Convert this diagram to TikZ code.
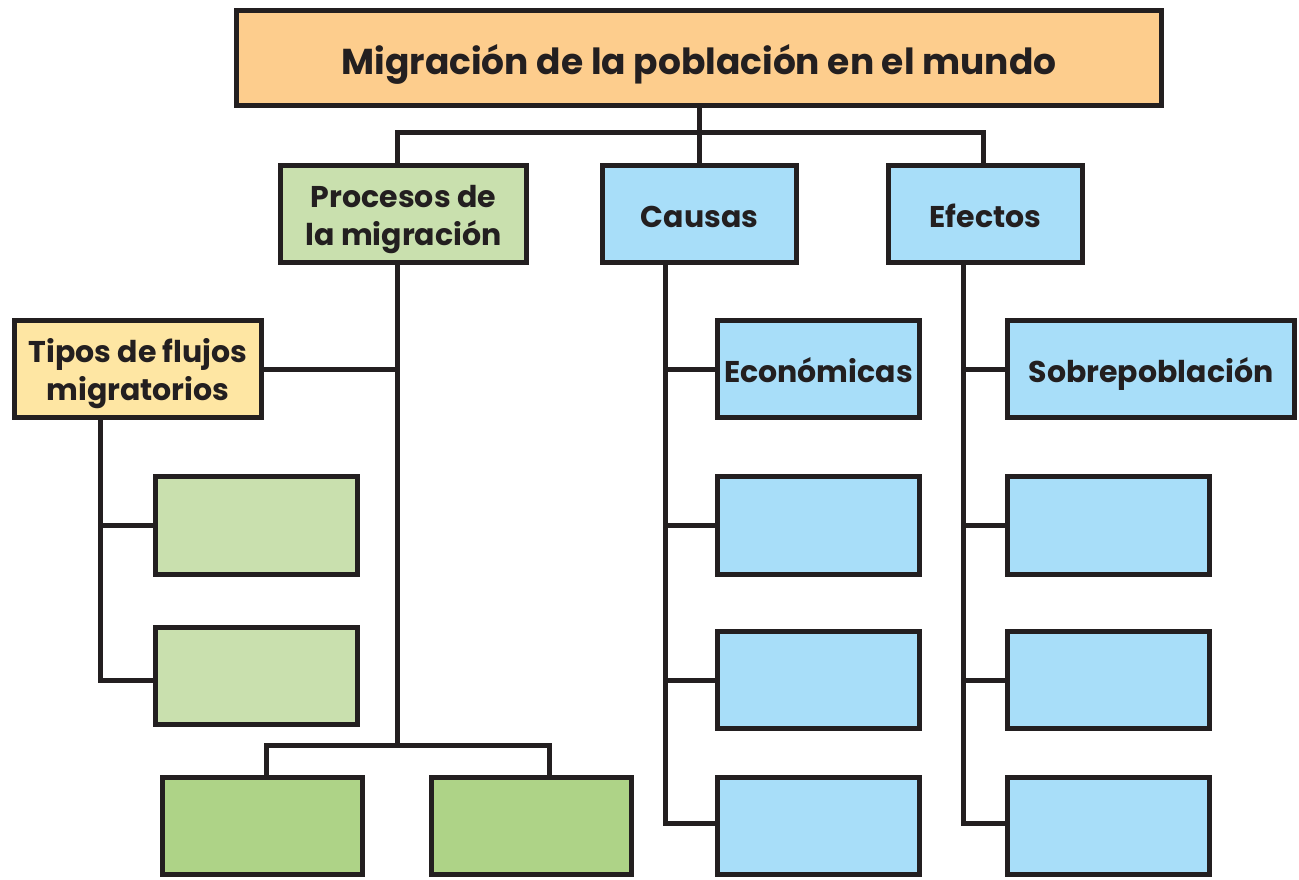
\documentclass[tikz,border=0pt]{standalone}
\usepackage{fontspec}
\setmainfont{Poppins}
\definecolor{ink}{HTML}{231F20}
\definecolor{orangebox}{HTML}{FDCD8D}
\definecolor{lgreen}{HTML}{C9E0AE}
\definecolor{dgreen}{HTML}{AED387}
\definecolor{lblue}{HTML}{A8DEF9}
\definecolor{lyellow}{HTML}{FEE6A3}
\tikzset{
  box/.style={draw=ink, line width=5pt, rectangle, inner sep=0pt, outer sep=0pt,
    align=center, font=\fontsize{30}{38}\selectfont\bfseries, text=ink,
    text height=30pt, text depth=4pt},
  twoline/.style={box, text height=67pt, text depth=4pt},
  titlebox/.style={box, font=\fontsize{36}{42}\selectfont\bfseries,
    text height=38pt, text depth=4pt},
  link/.style={draw=ink, line width=5pt, line join=miter}
}
\begin{document}
\begin{tikzpicture}[x=1pt,y=-1pt]
\useasboundingbox[fill=white] (0,0) rectangle (1299,880);
% boxes
\node[titlebox, fill=orangebox, minimum width=925, minimum height=95] (title) at (699,58) {Migración de la población en el mundo};
\node[twoline, fill=lgreen, minimum width=246, minimum height=97] (proc) at (403.5,214) {Procesos de\\la migración};
\node[box, fill=lblue, minimum width=194, minimum height=97] (causas) at (699.5,214) {Causas};
\node[box, fill=lblue, minimum width=194, minimum height=97] (efectos) at (985.5,214) {Efectos};
\node[twoline, fill=lyellow, minimum width=247, minimum height=97] (tipos) at (138,369) {Tipos de flujos\\migratorios};
\node[box, fill=lgreen, minimum width=202, minimum height=98] (g1) at (256.5,525.5) {};
\node[box, fill=lgreen, minimum width=202, minimum height=97] (g2) at (256.5,676) {};
\node[box, fill=dgreen, minimum width=200, minimum height=97] (b1) at (262.5,826) {};
\node[box, fill=dgreen, minimum width=200, minimum height=97] (b2) at (531.5,826) {};
\node[box, fill=lblue, minimum width=202, minimum height=97] (c1) at (818.5,369) {Económicas};
\node[box, fill=lblue, minimum width=202, minimum height=98] (c2) at (818.5,525.5) {};
\node[box, fill=lblue, minimum width=202, minimum height=97] (c3) at (818.5,680) {};
\node[box, fill=lblue, minimum width=202, minimum height=97] (c4) at (818.5,826) {};
\node[box, fill=lblue, minimum width=287, minimum height=97] (e1) at (1151,369) {Sobrepoblación};
\node[box, fill=lblue, minimum width=202, minimum height=98] (e2) at (1108.5,525.5) {};
\node[box, fill=lblue, minimum width=202, minimum height=97] (e3) at (1108.5,680) {};
\node[box, fill=lblue, minimum width=202, minimum height=97] (e4) at (1108.5,826) {};
% junction coordinates
\coordinate (h1) at (397,133);
\coordinate (h2) at (983,133);
\coordinate (ps) at (397,745);
\coordinate (bl) at (266,745);
\coordinate (br) at (549,745);
\coordinate (ts) at (100,680);
\coordinate (cs) at (665,823);
\coordinate (es) at (963,823);
% connectors
\draw[link] (title.south) -- (title.south |- h1);
\draw[link] (proc.north -| h1) -- (h1) -- (h2) -- (efectos.north -| h2);
\draw[link] (causas.north) -- (causas.north |- h1);
\draw[link] (proc.south -| ps) -- (ps);
\draw[link] (tipos.east) -- (tipos.east -| ps);
\draw[link] (b1.north -| bl) -- (bl) -- (br) -- (b2.north -| br);
\draw[link] (tipos.south -| ts) -- (ts) -- (ts -| g2.west);
\draw[link] (g1.west) -- (g1.west -| ts);
\draw[link] (causas.south -| cs) -- (cs) -- (cs -| c4.west);
\draw[link] (c1.west) -- (c1.west -| cs);
\draw[link] (c2.west) -- (c2.west -| cs);
\draw[link] (c3.west) -- (c3.west -| cs);
\draw[link] (efectos.south -| es) -- (es) -- (es -| e4.west);
\draw[link] (e1.west) -- (e1.west -| es);
\draw[link] (e2.west) -- (e2.west -| es);
\draw[link] (e3.west) -- (e3.west -| es);
\end{tikzpicture}
\end{document}
